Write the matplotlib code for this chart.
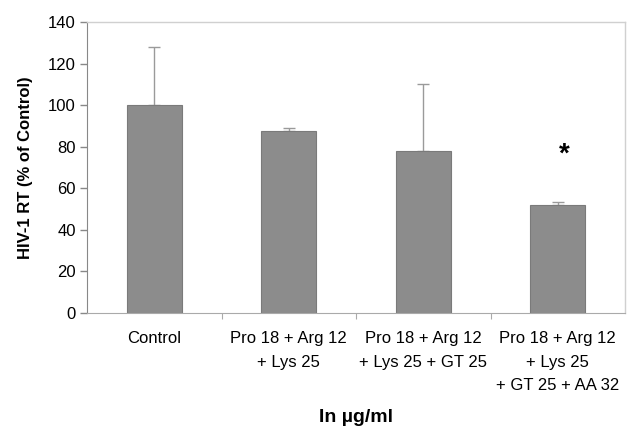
import matplotlib
matplotlib.use("Agg")
import matplotlib.pyplot as plt
import numpy as np

categories = ["Control", "Pro 18 + Arg 12\n+ Lys 25", "Pro 18 + Arg 12\n+ Lys 25 + GT 25",
              "Pro 18 + Arg 12\n+ Lys 25\n+ GT 25 + AA 32"]
values = [100, 87.5, 78, 52]
errors = [28, 1.5, 32, 1.5]
yticks = [0, 20, 40, 60, 80, 100, 120, 140]
star_value = 76

plt.rcParams['font.family'] = ['Liberation Sans', 'DejaVu Sans']

fig = plt.figure(figsize=(6.31, 4.29), dpi=100)
ax = fig.add_axes([87/631, 116/429, (625-87)/631, (313-22)/429])
x = np.arange(len(categories))
ax.bar(x, values, width=0.41, color='#8c8c8c', edgecolor='#7a7a7a', linewidth=0.8, zorder=2)
ax.errorbar(x, values, yerr=[np.zeros(len(errors)), errors], fmt='none',
            ecolor='#9a9a9a', elinewidth=1.0, capsize=4, capthick=1.0, zorder=1)
ax.text(3.05, star_value, "*", ha='center', va='center', fontsize=20, fontweight='bold')

ax.set_xlim(-0.5, 3.5)
ax.set_ylim(0, 140)
ax.set_yticks(yticks)
ax.tick_params(axis='y', labelsize=12, length=5, color='#888888', width=1, pad=3)
ax.set_xticks([0.5, 1.5, 2.5])
ax.set_xticklabels([])
ax.set_xticks(x, minor=True)
ax.set_xticklabels(categories, minor=True, fontsize=12, linespacing=1.72, va='top')
ax.tick_params(axis='x', which='major', length=4, color='#aaaaaa', direction='out')
ax.tick_params(axis='x', which='minor', length=0, pad=13)

for s in ['top', 'right']:
    ax.spines[s].set_color('#d0d0d0')
    ax.spines[s].set_linewidth(1)
ax.spines['left'].set_color('#888888')
ax.spines['bottom'].set_color('#aaaaaa')

ax.set_ylabel("HIV-1 RT (% of Control)", fontsize=12, fontweight='bold', labelpad=11)
fig.text(356/631, 1 - 418/429, "In µg/ml", ha='center', va='center', fontsize=14, fontweight='bold')

fig.savefig("out.png", dpi=100)
